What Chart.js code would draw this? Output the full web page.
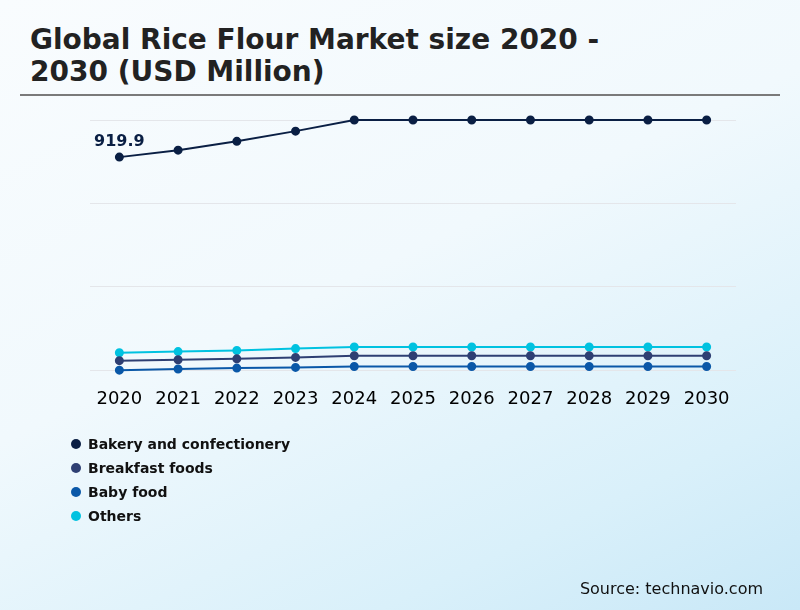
<!DOCTYPE html>
<html>
<head>
<meta charset="utf-8">
<script src="https://cdn.jsdelivr.net/npm/chart.js@4/dist/chart.umd.min.js"></script>
<style>
  html, body { margin: 0; padding: 0; }
  body {
    width: 800px; height: 610px; position: relative; overflow: hidden;
    background: linear-gradient(155deg, #f9fcfe 0%, #f1f9fd 45%, #d9f0fa 80%, #c9e8f7 100%);
    font-family: "DejaVu Sans", sans-serif;
  }
  #title {
    position: absolute; left: 30px; top: 24px; margin: 0;
    font-size: 28px; font-weight: bold; line-height: 32px; color: #222;
  }
  #rule { position: absolute; left: 20px; top: 94px; width: 760px; height: 2px; background: #7a7a7a; }
  #chart { position: absolute; left: 0; top: 0; }
  #legend { position: absolute; left: 71px; top: 432px; }
  .item { height: 24px; display: flex; align-items: center; font-size: 14px; font-weight: bold; color: #111; }
  .dot { width: 10px; height: 10px; border-radius: 50%; margin-right: 7px; }
  #source { position: absolute; right: 37px; top: 579px; font-size: 16px; color: #111; }
</style>
</head>
<body>
<h1 id="title">Global Rice Flour Market size 2020 -<br>2030 (USD Million)</h1>
<div id="rule"></div>
<canvas id="chart" width="800" height="610"></canvas>
<div id="legend"></div>
<div id="source">Source: technavio.com</div>
<script>
var years = ["2020", "2021", "2022", "2023", "2024", "2025", "2026", "2027", "2028", "2029", "2030"];

var bakery = [919.9, 950, 988, 1032, 1080, 1080, 1080, 1080, 1080, 1080, 1080];
var breakfast = [42, 46, 50, 56, 63, 63, 63, 63, 63, 63, 63];
var babyFood = [1, 6, 10, 13, 17, 17, 17, 17, 17, 17, 17];
var others = [76, 81, 86, 94, 101, 101, 101, 101, 101, 101, 101];

var seriesNames = ["Bakery and confectionery", "Breakfast foods", "Baby food", "Others"];
var seriesColors = ["#0a1f44", "#2e3f73", "#0a58a8", "#00c2e0"];

var firstLabel = {
  id: "firstLabel",
  afterDatasetsDraw: function(chart) {
    var point = chart.getDatasetMeta(0).data[0];
    var ctx = chart.ctx;
    ctx.save();
    ctx.font = "bold 16px 'DejaVu Sans'";
    ctx.fillStyle = "#0a1f44";
    ctx.textAlign = "center";
    ctx.textBaseline = "middle";
    ctx.fillText(bakery[0].toFixed(1), point.x, point.y - 15);
    ctx.restore();
  }
};

var chart = new Chart(document.getElementById("chart"), {
  type: "line",
  data: {
    labels: years,
    datasets: [bakery, breakfast, babyFood, others].map(function(values, i) {
      return {
        label: seriesNames[i],
        data: values,
        borderColor: seriesColors[i],
        backgroundColor: seriesColors[i],
        borderWidth: 2,
        pointRadius: 3.5,
        pointHoverRadius: 4,
        tension: 0,
        clip: false
      };
    })
  },
  options: {
    responsive: false,
    animation: false,
    layout: { padding: { left: 90, right: 64, top: 120, bottom: 182 } },
    plugins: {
      legend: { display: false },
      tooltip: { enabled: false }
    },
    scales: {
      x: {
        offset: true,
        grid: { display: false, drawTicks: false },
        border: { display: false },
        ticks: { color: "#000", font: { family: "DejaVu Sans", size: 18 }, padding: 18, maxRotation: 0, autoSkip: false }
      },
      y: {
        display: true,
        min: 0,
        max: 1080,
        ticks: { display: false, stepSize: 360 },
        grid: { color: "#e4e6ea", lineWidth: 1, drawTicks: false },
        border: { display: false }
      }
    }
  },
  plugins: [firstLabel]
});

var legend = document.getElementById("legend");
chart.data.datasets.forEach(function(ds) {
  var row = document.createElement("div");
  row.className = "item";
  row.innerHTML = '<span class="dot" style="background:' + ds.borderColor + '"></span>' + ds.label;
  legend.appendChild(row);
});
</script>
</body>
</html>
